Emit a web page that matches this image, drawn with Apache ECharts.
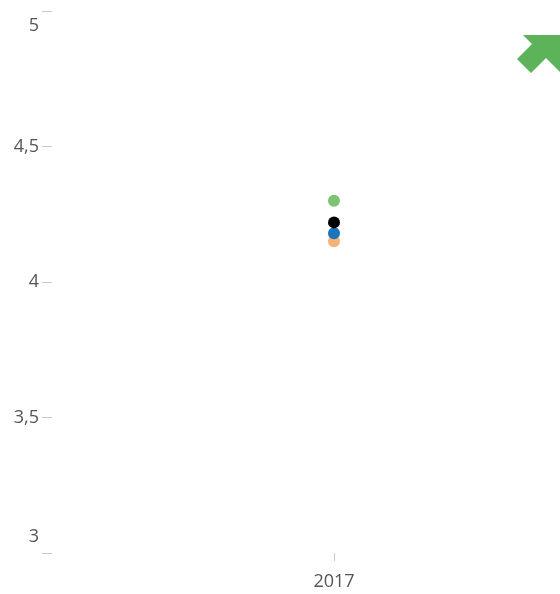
<!DOCTYPE html>
<html>
<head>
<meta charset="utf-8">
<script src="https://cdn.jsdelivr.net/npm/echarts@6/dist/echarts.min.js"></script>
<style>html,body{margin:0;padding:0;background:#fff}#c{width:560px;height:594px}</style>
</head>
<body>
<div id="c"></div>
<script>
// Ratings for the single year shown
const categories = ['2017'];
const greenValues = [4.30];
const blackValues = [4.22];
const blueValues = [4.18];
const orangeValues = [4.15];
const yTicks = [3, 3.5, 4, 4.5, 5];

const chart = echarts.init(document.getElementById('c'), null, {renderer: 'canvas'});

function dotSeries(name, data, color) {
  return {
    name, type: 'scatter', data, symbol: 'circle', symbolSize: 12,
    itemStyle: {color, opacity: 1}, z: 3
  };
}

const labelFont = {color: '#555', fontSize: 18, fontFamily: 'Open Sans'};

chart.setOption({
  animation: false,
  grid: {left: 52, top: 11, right: -56, bottom: 41, outerBoundsMode: 'none', containLabel: false},
  xAxis: {
    type: 'category', data: categories,
    axisLine: {show: false},
    axisTick: {show: true, alignWithLabel: true, length: 8, lineStyle: {color: '#c8c8c8'}},
    axisLabel: Object.assign({margin: 20}, labelFont)
  },
  yAxis: {
    type: 'value', min: yTicks[0], max: yTicks[yTicks.length - 1], interval: 0.5,
    splitLine: {show: false},
    axisLine: {show: false},
    axisTick: {show: true, length: 10, lineStyle: {color: '#c8c8c8'}},
    axisLabel: Object.assign({
      margin: 13,
      formatter: function (v) {
        const s = String(v).replace('.', ',');
        if (v === yTicks[yTicks.length - 1]) return '{top|' + s + '}';
        if (v === yTicks[0]) return '{bot|' + s + '}';
        return s;
      },
      rich: {
        top: Object.assign({padding: [30, 0, 0, 0]}, labelFont),
        bot: Object.assign({padding: [0, 0, 32, 0]}, labelFont)
      }
    }, labelFont)
  },
  series: [
    dotSeries('Orange', orangeValues, '#f7b27a'),
    dotSeries('Blue', blueValues, '#1b75bc'),
    dotSeries('Black', blackValues, '#000000'),
    dotSeries('Green', greenValues, '#7cc471')
  ],
  // Trend arrow badge in the top-right corner
  graphic: [{
    type: 'polygon',
    shape: {points: [[523, 35], [563, 35], [563, 75], [546, 58], [531, 73], [517, 59], [532, 44]]},
    style: {fill: '#5cb35a'}
  }]
});
</script>
</body>
</html>
